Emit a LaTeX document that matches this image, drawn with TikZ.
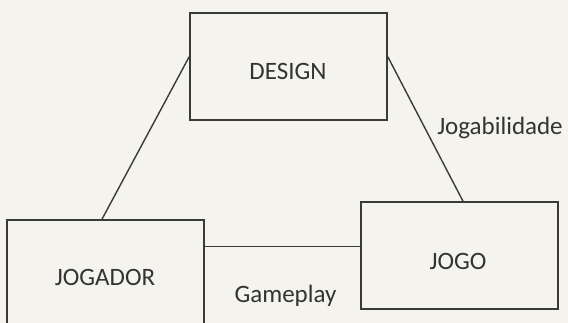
\documentclass[tikz,border=0pt]{standalone}
\usepackage{fontspec}
\setmainfont{Carlito}
\usetikzlibrary{calc}
\definecolor{paper}{HTML}{F4F3EE}
\definecolor{ink}{HTML}{3A3A38}
\definecolor{txt}{HTML}{333333}
\tikzset{
  box/.style={draw=ink, line width=1.6pt, minimum width=197pt, minimum height=107pt,
              inner sep=0pt},
  link/.style={draw=ink, line width=1.4pt},
  tag/.style={font=\fontsize{25}{30}\selectfont, text=txt, inner sep=0pt}
}
\begin{document}
\begin{tikzpicture}[x=1pt,y=-1pt]
  \fill[paper] (0,0) rectangle (568,323);
  \useasboundingbox (0,0) rectangle (568,323);
  \clip (0,0) rectangle (568,323);

  % the three boxes
  \node[box] (design) at (288.5,66.5) {};
  \node[box] (jogo) at (459.5,255.5) {};
  \node[box, minimum height=114pt] (jogador) at (105.5,277) {};

  % box captions
  \node[tag] (designtxt) at (288,71) {DESIGN};
  \node[tag] (jogotxt) at (458,261) {JOGO};
  \node[tag] (jogadortxt) at (105,277) {JOGADOR};

  % connectors
  \coordinate (dl) at ($(design.north west)!0.41!(design.south west)$);
  \coordinate (dr) at ($(design.north east)!0.41!(design.south east)$);
  \coordinate (jr) at ($(jogador.north east)!0.235!(jogador.south east)$);
  \draw[link] (dl) -- ($(jogador.north)+(-3.5,0)$);
  \draw[link] (dr) -- ($(jogo.north)+(3.5,0)$);
  \draw[link] (jr) -- (jr -| jogo.west);

  % labels
  \node[tag] (jogabilidade) at (500,128) {Jogabilidade};
  \node[tag] (gameplay) at (285.5,296) {Gameplay};
\end{tikzpicture}
\end{document}
